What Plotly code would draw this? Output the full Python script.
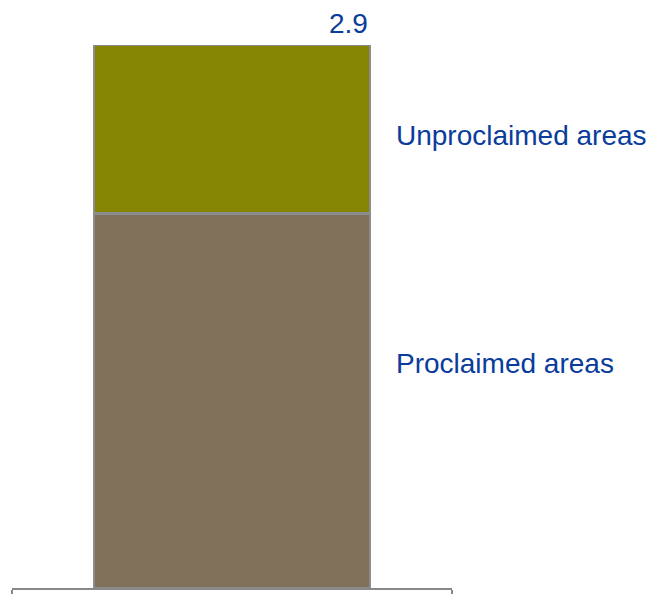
import plotly.graph_objects as go

# Stacked bar: area split (values)
category = ["Total"]
series_names = ["Proclaimed areas", "Unproclaimed areas"]
series_values = [[2.0], [0.9]]
series_colors = ["#807059", "#868604"]
total_label = "2.9"
# vertical anchor (data units) of each side label
label_y = [1.2, 2.415]

BAR_WIDTH = 0.627
TEXT_BLUE = "#0A3C9C"
FONT = "Liberation Sans, Arial, sans-serif"
FONT_SIZE = 28

fig = go.Figure()
for name, vals, col in zip(series_names, series_values, series_colors):
    fig.add_trace(go.Bar(
        x=category, y=vals, name=name, width=BAR_WIDTH,
        marker=dict(color=col, line=dict(color="#8C8C8C", width=2.5)),
        hoverinfo="skip",
    ))

total = sum(v[0] for v in series_values)

# total value above the bar, right-aligned with its edge
fig.add_annotation(
    x=BAR_WIDTH / 2, y=total, xref="x", yref="y", text=total_label,
    xanchor="right", yanchor="bottom", showarrow=False, yshift=4,
    font=dict(family=FONT, size=FONT_SIZE, color=TEXT_BLUE),
)

# series names to the right of the bar
for name, yy in zip(series_names, label_y):
    fig.add_annotation(
        x=1, y=yy, xref="paper", yref="y", text=name,
        xanchor="left", yanchor="middle", showarrow=False, xshift=-58,
        font=dict(family=FONT, size=FONT_SIZE, color=TEXT_BLUE),
    )

fig.update_layout(
    template="none",
    barmode="stack",
    width=652, height=594,
    margin=dict(l=12, r=200, t=45, b=6, pad=0),
    paper_bgcolor="white", plot_bgcolor="white",
    showlegend=False,
    xaxis=dict(
        range=[-0.5, 0.5], showline=True, linecolor="#888888", linewidth=2,
        ticks="outside", tickson="boundaries", ticklen=6, tickwidth=2,
        tickcolor="#888888", showticklabels=False, showgrid=False,
        zeroline=False, fixedrange=True, automargin=False,
    ),
    yaxis=dict(
        range=[0, total], visible=False, showgrid=False, zeroline=False,
        fixedrange=True, automargin=False,
    ),
)

fig.write_html("out.html", config={"displayModeBar": False})
